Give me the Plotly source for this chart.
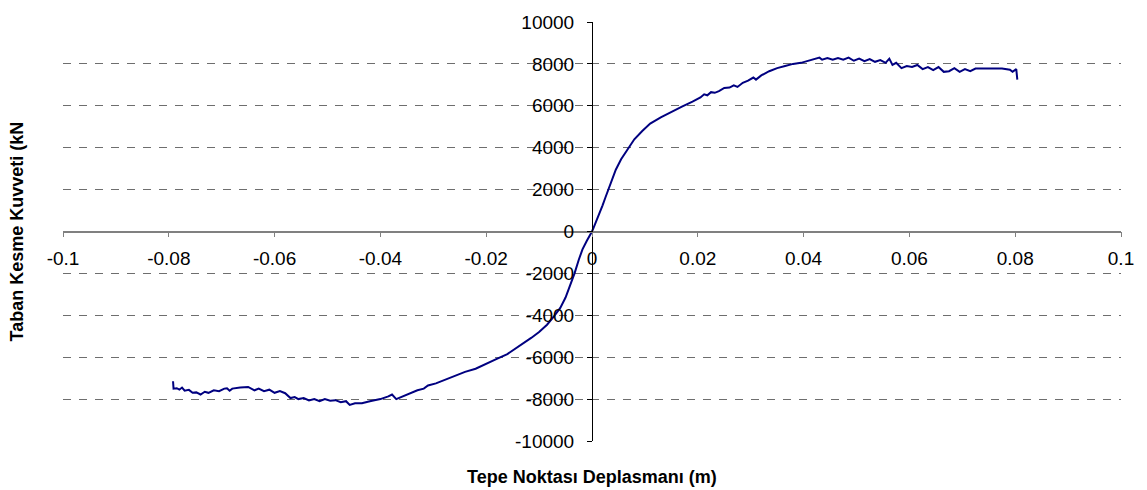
import plotly.graph_objects as go

# Pushover curve: top displacement (m) vs base shear (kN)
disp_neg = [-0.0792, -0.0791, -0.0785, -0.078, -0.0775, -0.077, -0.0762, -0.0755, -0.0748, -0.074,
            -0.0732, -0.0725, -0.0715, -0.0705, -0.0695, -0.069, -0.0685, -0.068, -0.0665, -0.065,
            -0.0638, -0.063, -0.062, -0.061, -0.060, -0.059, -0.058, -0.057, -0.0562, -0.0555,
            -0.0545, -0.0535, -0.0525, -0.0515, -0.0505, -0.0495, -0.0485, -0.0475, -0.0465, -0.0458,
            -0.0448, -0.0435, -0.042, -0.040, -0.0385, -0.0378, -0.037, -0.036, -0.0345, -0.033,
            -0.0318, -0.031, -0.0295, -0.028, -0.027, -0.0255, -0.024, -0.022, -0.020, -0.018,
            -0.016, -0.0145, -0.013, -0.0115, -0.010, -0.0085, -0.0072, -0.006, -0.005, -0.004,
            -0.0033, -0.0025, -0.0018, -0.001]
shear_neg = [-7150, -7500, -7480, -7550, -7450, -7600, -7560, -7700, -7680, -7780,
             -7650, -7700, -7580, -7620, -7500, -7480, -7600, -7500, -7450, -7420,
             -7580, -7500, -7620, -7550, -7700, -7620, -7720, -7950, -7900, -8000,
             -7950, -8060, -8000, -8100, -8000, -8080, -8050, -8150, -8100, -8280,
             -8200, -8200, -8100, -8000, -7870, -7780, -8000, -7900, -7750, -7580,
             -7500, -7350, -7250, -7100, -6980, -6850, -6700, -6550, -6300, -6080,
             -5850, -5600, -5350, -5080, -4800, -4450, -4050, -3650, -3150, -2500,
             -2000, -1350, -850, -450]

disp_pos = [0.0, 0.0005, 0.001, 0.0015, 0.002, 0.0025, 0.003, 0.0038, 0.0045, 0.0055,
            0.0068, 0.008, 0.0095, 0.011, 0.013, 0.015, 0.017, 0.019, 0.0205, 0.0212,
            0.0218, 0.0225, 0.0232, 0.024, 0.025, 0.026, 0.0268, 0.0275, 0.0285, 0.0295,
            0.0305, 0.031, 0.032, 0.0335, 0.035, 0.0365, 0.038, 0.0395, 0.041, 0.0425,
            0.043, 0.0435, 0.0445, 0.0455, 0.0465, 0.0475, 0.0485, 0.0495, 0.0505, 0.0515,
            0.0525, 0.0535, 0.0545, 0.0555, 0.0562, 0.0568, 0.0575, 0.0585, 0.0595, 0.0605,
            0.0615, 0.0625, 0.0635, 0.0645, 0.0655, 0.0665, 0.0675, 0.0685, 0.0695, 0.0705,
            0.0715, 0.0725, 0.0745, 0.0775, 0.079, 0.0795, 0.0802, 0.0804]
shear_pos = [0, 300, 600, 950, 1250, 1600, 1950, 2500, 2950, 3450,
             3950, 4400, 4800, 5150, 5450, 5720, 5960, 6200, 6400, 6550,
             6500, 6650, 6620, 6700, 6850, 6870, 6980, 6900, 7100, 7200,
             7350, 7250, 7450, 7650, 7800, 7900, 8000, 8050, 8150, 8250,
             8300, 8200, 8280, 8200, 8280, 8200, 8300, 8150, 8250, 8130,
             8230, 8100, 8180, 8050, 8250, 7950, 8050, 7800, 7900, 7850,
             7950, 7750, 7850, 7700, 7850, 7620, 7650, 7800, 7620, 7750,
             7650, 7780, 7780, 7780, 7720, 7620, 7750, 7250]

x_ticks = [-0.1, -0.08, -0.06, -0.04, -0.02, 0, 0.02, 0.04, 0.06, 0.08, 0.1]
x_labels = ["-0.1", "-0.08", "-0.06", "-0.04", "-0.02", "0", "0.02", "0.04", "0.06", "0.08", "0.1"]
y_ticks = [-10000, -8000, -6000, -4000, -2000, 0, 2000, 4000, 6000, 8000, 10000]
y_labels = [str(v) for v in y_ticks]

x_title = "Tepe Noktası Deplasmanı (m)"
y_title = "Taban Kesme Kuvveti (kN"

fig = go.Figure()
fig.add_trace(go.Scatter(
    x=disp_neg + disp_pos, y=shear_neg + shear_pos, mode="lines",
    line=dict(color="#000080", width=2), showlegend=False, hoverinfo="skip"))

font = "Liberation Sans, Arial, sans-serif"
fig.update_layout(
    width=1147, height=490,
    margin=dict(l=63, r=26, t=17, b=49),
    paper_bgcolor="white", plot_bgcolor="white",
    xaxis=dict(range=[-0.1, 0.1], anchor="free", position=0.5, domain=[0, 1],
               tickvals=x_ticks, ticktext=x_labels, showgrid=False, zeroline=False,
               showline=True, linecolor="#808080", linewidth=1.5,
               ticks="outside", ticklen=5, tickcolor="#808080", tickwidth=1,
               ticklabelstandoff=5,
               tickfont=dict(family=font, size=19, color="black")),
    yaxis=dict(range=[-10000, 10000], anchor="free", position=0.5, domain=[0, 1],
               tickvals=y_ticks, ticktext=y_labels, zeroline=False,
               showgrid=True, gridcolor="#6e6e6e", griddash="8px,8px", gridwidth=1,
               showline=True, linecolor="black", linewidth=1,
               ticks="outside", ticklen=5, tickcolor="black", tickwidth=1,
               ticklabelstandoff=9,
               tickfont=dict(family=font, size=19, color="black")),
    annotations=[
        dict(text=f"<b>{x_title}</b>", x=0.5, y=-0.085, xref="paper", yref="paper",
             showarrow=False, xanchor="center", yanchor="middle",
             font=dict(family=font, size=18, color="black")),
        dict(text=f"<b>{y_title}</b>", x=-0.0435, y=0.5, xref="paper", yref="paper",
             showarrow=False, xanchor="center", yanchor="middle", textangle=-90,
             font=dict(family=font, size=18, color="black")),
    ],
)

fig.write_html("out.html")
